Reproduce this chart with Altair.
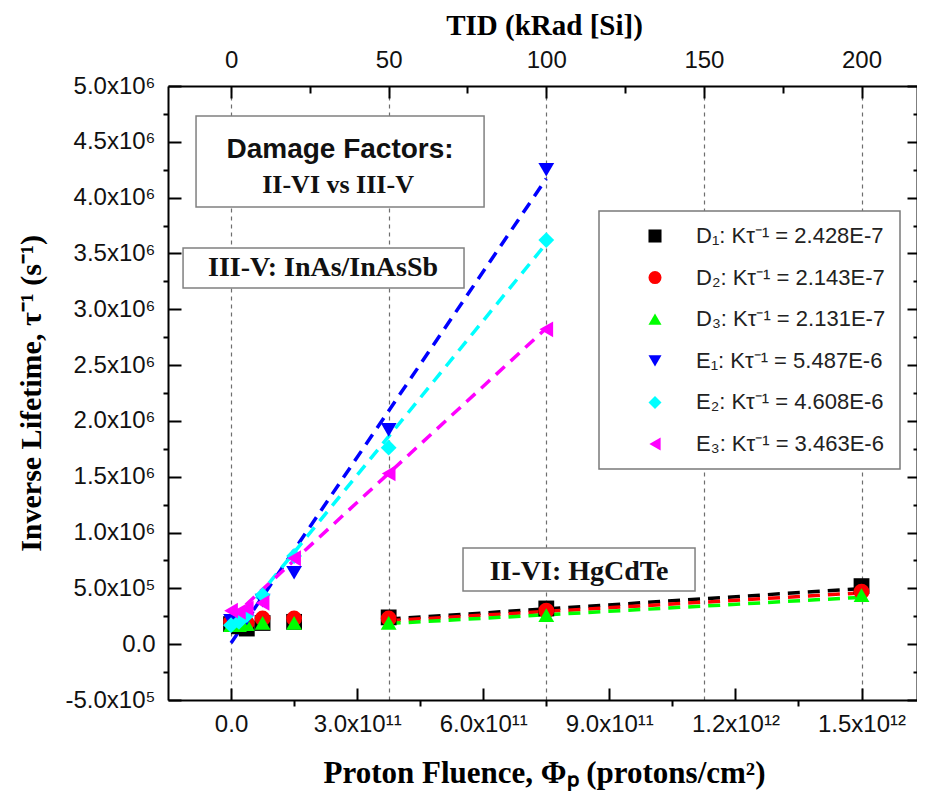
import json
import altair as alt
import pandas as pd

# ---------------- data ----------------
SERIES = [
    "D₁: Kτ⁻¹ = 2.428E-7",
    "D₂: Kτ⁻¹ = 2.143E-7",
    "D₃: Kτ⁻¹ = 2.131E-7",
    "E₁: Kτ⁻¹ = 5.487E-6",
    "E₂: Kτ⁻¹ = 4.608E-6",
    "E₃: Kτ⁻¹ = 3.463E-6",
]
COLORS = ["#000000", "#ff0000", "#00ff00", "#0000ff", "#00ffff", "#ff00ff"]
SHAPES = ["square", "circle", "triangle-up", "triangle-down", "diamond", "triangle-left"]

# proton fluence (protons/cm^2) of the measured points
FLUENCE_D = [0, 1.875e10, 3.75e10, 7.5e10, 1.5e11, 3.75e11, 7.5e11, 1.5e12]
FLUENCE_E = [0, 1.875e10, 3.75e10, 7.5e10, 1.5e11, 3.75e11, 7.5e11]

# inverse lifetime (1/s)
D1 = [1.8e5, 1.6e5, 1.4e5, 1.9e5, 2.0e5, 2.4e5, 3.2e5, 5.2e5]
D2 = [2.0e5, 2.0e5, 1.9e5, 2.3e5, 2.3e5, 2.3e5, 3.0e5, 4.7e5]
D3 = [1.7e5, 1.7e5, 1.8e5, 1.9e5, 1.9e5, 1.9e5, 2.6e5, 4.4e5]
E1 = [2.1e5, 2.0e5, 2.3e5, 3.9e5, 6.4e5, 1.92e6, 4.25e6]
E2 = [1.7e5, 2.0e5, 2.6e5, 4.4e5, 7.9e5, 1.76e6, 3.62e6]
E3 = [3.0e5, 2.9e5, 3.2e5, 3.7e5, 7.7e5, 1.53e6, 2.82e6]

# linear fits (end points)
FIT_D_X = [3.75e11, 1.5e12]
FIT_E_X = [0, 7.5e11]
FIT_D1 = [2.25e5, 4.98e5]
FIT_D2 = [2.10e5, 4.60e5]
FIT_D3 = [1.85e5, 4.20e5]
FIT_E1 = [1.0e4, 4.17e6]
FIT_E2 = [1.3e5, 3.59e6]
FIT_E3 = [2.3e5, 2.83e6]

# axis ticks
X_TICK_VALUES = [0, 3e11, 6e11, 9e11, 1.2e12, 1.5e12]
X_TICK_LABELS = ["0.0", "3.0x10¹¹", "6.0x10¹¹", "9.0x10¹¹", "1.2x10¹²", "1.5x10¹²"]
Y_TICK_VALUES = [-5e5, 0, 5e5, 1e6, 1.5e6, 2e6, 2.5e6, 3e6, 3.5e6, 4e6, 4.5e6, 5e6]
Y_TICK_LABELS = ["-5.0x10⁵", "0.0", "5.0x10⁵", "1.0x10⁶", "1.5x10⁶", "2.0x10⁶",
                 "2.5x10⁶", "3.0x10⁶", "3.5x10⁶", "4.0x10⁶", "4.5x10⁶", "5.0x10⁶"]
TID_TICKS = [0, 50, 100, 150, 200]          # kRad [Si]
TID_MINOR = [25, 75, 125, 175]
KRAD_TO_FLUENCE = 7.5e9                      # 100 kRad <-> 7.5e11 p/cm^2

# ---------------- tables ----------------
pts = []
for name, xs, ys in [(SERIES[0], FLUENCE_D, D1), (SERIES[1], FLUENCE_D, D2), (SERIES[2], FLUENCE_D, D3),
                     (SERIES[3], FLUENCE_E, E1), (SERIES[4], FLUENCE_E, E2), (SERIES[5], FLUENCE_E, E3)]:
    for xv, yv in zip(xs, ys):
        pts.append({"series": name, "x": xv, "y": yv, "order": SERIES.index(name)})
points_df = pd.DataFrame(pts)

fits = []
for k, (xs, ys) in enumerate([(FIT_D_X, FIT_D1), (FIT_D_X, FIT_D2), (FIT_D_X, FIT_D3),
                              (FIT_E_X, FIT_E1), (FIT_E_X, FIT_E2), (FIT_E_X, FIT_E3)]):
    for xv, yv in zip(xs, ys):
        fits.append({"series": SERIES[k], "color": COLORS[k], "x": xv, "y": yv})
fits_df = pd.DataFrame(fits)

# annotation boxes / texts (in data units)
boxes_df = pd.DataFrame([
    {"x": -8.33e10, "x2": 6.02e11, "y": 4.731e6, "y2": 3.916e6},
    {"x": -1.142e11, "x2": 5.543e11, "y": 3.549e6, "y2": 3.191e6},
    {"x": 5.519e11, "x2": 1.1039e12, "y": 8.62e5, "y2": 4.76e5},
])
sans_text_df = pd.DataFrame([{"x": 2.593e11, "y": 4.427e6, "t": "Damage Factors:"}])
serif_small_df = pd.DataFrame([{"x": 2.546e11, "y": 4.113e6, "t": "II-VI vs III-V"}])
serif_text_df = pd.DataFrame([
    {"x": 2.189e11, "y": 3.370e6, "t": "III-V: InAs/InAsSb"},
    {"x": 8.279e11, "y": 6.47e5, "t": "II-VI: HgCdTe"},
])

# ---------------- layout ----------------
W, H = 749, 614
SANS = "Liberation Sans"
SERIF = "Liberation Serif"

x_scale = alt.Scale(domain=[-1.5e11, 1.632e12], nice=False, zero=False)
y_scale = alt.Scale(domain=[-5e5, 5e6], nice=False, zero=False)


def lookup_expr(values, labels):
    v = json.dumps(values)
    l = json.dumps(labels, ensure_ascii=False)
    return f"indexof({v}, datum.value) < 0 ? '' : {l}[indexof({v}, datum.value)]"


def major_test(values):
    return f"indexof({json.dumps(values)}, datum.value) >= 0"


x_minor = [(a + b) / 2 for a, b in zip(X_TICK_VALUES[:-1], X_TICK_VALUES[1:])]
y_minor = [(a + b) / 2 for a, b in zip(Y_TICK_VALUES[:-1], Y_TICK_VALUES[1:])]
y_all = sorted(Y_TICK_VALUES + y_minor)
tid_major_f = [t * KRAD_TO_FLUENCE for t in TID_TICKS]
tid_all_f = sorted(tid_major_f + [t * KRAD_TO_FLUENCE for t in TID_MINOR])

bottom_axis = alt.Axis(
    orient="bottom", values=sorted(X_TICK_VALUES + x_minor),
    labelExpr=lookup_expr(X_TICK_VALUES, X_TICK_LABELS),
    tickOpacity={"condition": {"test": major_test(X_TICK_VALUES), "value": 0}, "value": 1},
    tickSize=6, tickWidth=2, tickColor="black", domainColor="black", domainWidth=2,
    labelFont=SANS, labelFontSize=24, labelColor="#111", labelPadding=6,
    labelOverlap=False, labelFlush=False, labelAngle=0, grid=False,
    title="Proton Fluence, Φₚ (protons/cm²)", titleFont=SERIF, titleFontWeight="bold",
    titleFontSize=31, titleColor="black", titleX=376, titleY=73,
    titleAlign="center", titleBaseline="middle",
)
top_axis = alt.Axis(
    orient="top", values=tid_major_f,
    labelExpr=f"format(datum.value / {KRAD_TO_FLUENCE}, 'd')",
    ticks=False, domainColor="black", domainWidth=2,
    labelFont=SANS, labelFontSize=24, labelColor="#111", labelPadding=14,
    labelOverlap=False, labelFlush=False, labelAngle=0,
    grid=True, gridColor="#6e6e6e", gridDash=[4, 4], gridWidth=1.2,
    title="TID (kRad [Si])", titleFont=SERIF, titleFontWeight="bold",
    titleFontSize=29, titleColor="black", titleX=376, titleY=-61,
    titleAlign="center", titleBaseline="middle",
)
top_in_axis = alt.Axis(
    orient="bottom", offset=-H, values=tid_all_f, labels=False, domain=False, grid=False,
    tickSize={"condition": {"test": major_test(tid_major_f), "value": 12}, "value": 7},
    tickWidth=2, tickColor="black", title=None,
)
bottom_in_axis = alt.Axis(
    orient="top", offset=-H, values=X_TICK_VALUES, labels=False, domain=False, grid=False,
    tickSize=12, tickWidth=2, tickColor="black", title=None,
)
left_axis = alt.Axis(
    orient="left", values=y_all,
    labelExpr=lookup_expr(Y_TICK_VALUES, Y_TICK_LABELS),
    tickOpacity={"condition": {"test": major_test(Y_TICK_VALUES), "value": 0}, "value": 1},
    tickSize=5, tickWidth=2, tickColor="black", domainColor="black", domainWidth=2,
    labelFont=SANS, labelFontSize=24, labelColor="#111", labelPadding=8,
    labelOverlap=False, labelFlush=False, grid=False,
    title="Inverse Lifetime, τ⁻¹ (s⁻¹)", titleFont=SERIF, titleFontWeight="bold",
    titleFontSize=30, titleColor="black", titleX=-137, titleY=H / 2,
    titleAngle=270, titleAlign="center", titleBaseline="middle",
)
left_in_axis = alt.Axis(
    orient="right", offset=-W, values=Y_TICK_VALUES, labels=False, domain=False, grid=False,
    tickSize=13, tickWidth=2, tickColor="black", title=None,
)
right_axis = alt.Axis(
    orient="right", values=Y_TICK_VALUES, labels=False, ticks=False, grid=False,
    domainColor="black", domainWidth=2, title=None,
)
right_in_axis = alt.Axis(
    orient="left", offset=-W, values=y_all, labels=False, domain=False, grid=False,
    tickSize={"condition": {"test": major_test(Y_TICK_VALUES), "value": 10}, "value": 4},
    tickWidth=2, tickColor="black", title=None,
)

lines = alt.Chart(fits_df).mark_line(strokeDash=[12, 8], strokeWidth=3.5).encode(
    x=alt.X("x:Q", scale=x_scale, axis=bottom_axis),
    y=alt.Y("y:Q", scale=y_scale, axis=left_axis),
    color=alt.Color("color:N", scale=None),
    detail="series:N",
)

points = alt.Chart(points_df).mark_point(filled=True, size=250, opacity=1, strokeWidth=0).encode(
    x=alt.X("x:Q", scale=x_scale, axis=top_axis),
    y=alt.Y("y:Q", scale=y_scale, axis=left_in_axis),
    color=alt.Color("series:N", scale=alt.Scale(domain=SERIES, range=COLORS),
                    sort=SERIES,
                    legend=alt.Legend(
                        orient="none", legendX=431, legendY=125, title=None,
                        fillColor="white", strokeColor="#7a7a7a",
                        padding=14, symbolOffset=31, labelOffset=30, rowPadding=19.6,
                        symbolSize=170, symbolStrokeWidth=0,
                        labelFont=SANS, labelFontSize=22, labelColor="#222",
                        labelLimit=400)),
    shape=alt.Shape("series:N", scale=alt.Scale(domain=SERIES, range=SHAPES), sort=SERIES),
    order=alt.Order("order:Q"),
)

rects = alt.Chart(boxes_df).mark_rect(fill="white", stroke="#808080", strokeWidth=1.5).encode(
    x=alt.X("x:Q", scale=x_scale, axis=top_in_axis),
    x2="x2:Q",
    y=alt.Y("y:Q", scale=y_scale, axis=right_axis),
    y2="y2:Q",
)

sans_text = alt.Chart(sans_text_df).mark_text(
    font=SANS, fontWeight="bold", fontSize=28, color="#111", baseline="middle", align="center"
).encode(
    x=alt.X("x:Q", scale=x_scale, axis=bottom_in_axis),
    y=alt.Y("y:Q", scale=y_scale, axis=right_in_axis),
    text="t:N",
)

serif_small = alt.Chart(serif_small_df).mark_text(
    font=SERIF, fontWeight="bold", fontSize=26, color="#111", baseline="middle", align="center"
).encode(
    x=alt.X("x:Q", scale=x_scale, axis=None),
    y=alt.Y("y:Q", scale=y_scale, axis=None),
    text="t:N",
)

serif_text = alt.Chart(serif_text_df).mark_text(
    font=SERIF, fontWeight="bold", fontSize=28, color="#111", baseline="middle", align="center"
).encode(
    x=alt.X("x:Q", scale=x_scale, axis=None),
    y=alt.Y("y:Q", scale=y_scale, axis=None),
    text="t:N",
)

chart = alt.layer(lines, points, rects, sans_text, serif_small, serif_text).resolve_scale(
    x="shared", y="shared"
).resolve_axis(
    x="independent", y="independent"
).properties(
    width=W, height=H,
    autosize=alt.AutoSizeParams(type="none"),
    padding={"left": 160, "top": 78, "right": 0, "bottom": 97},
    background="white",
).configure_view(stroke=None).configure_legend(strokeWidth=1.5)

chart.save("out.html", embed_options={"renderer": "svg", "actions": False})
